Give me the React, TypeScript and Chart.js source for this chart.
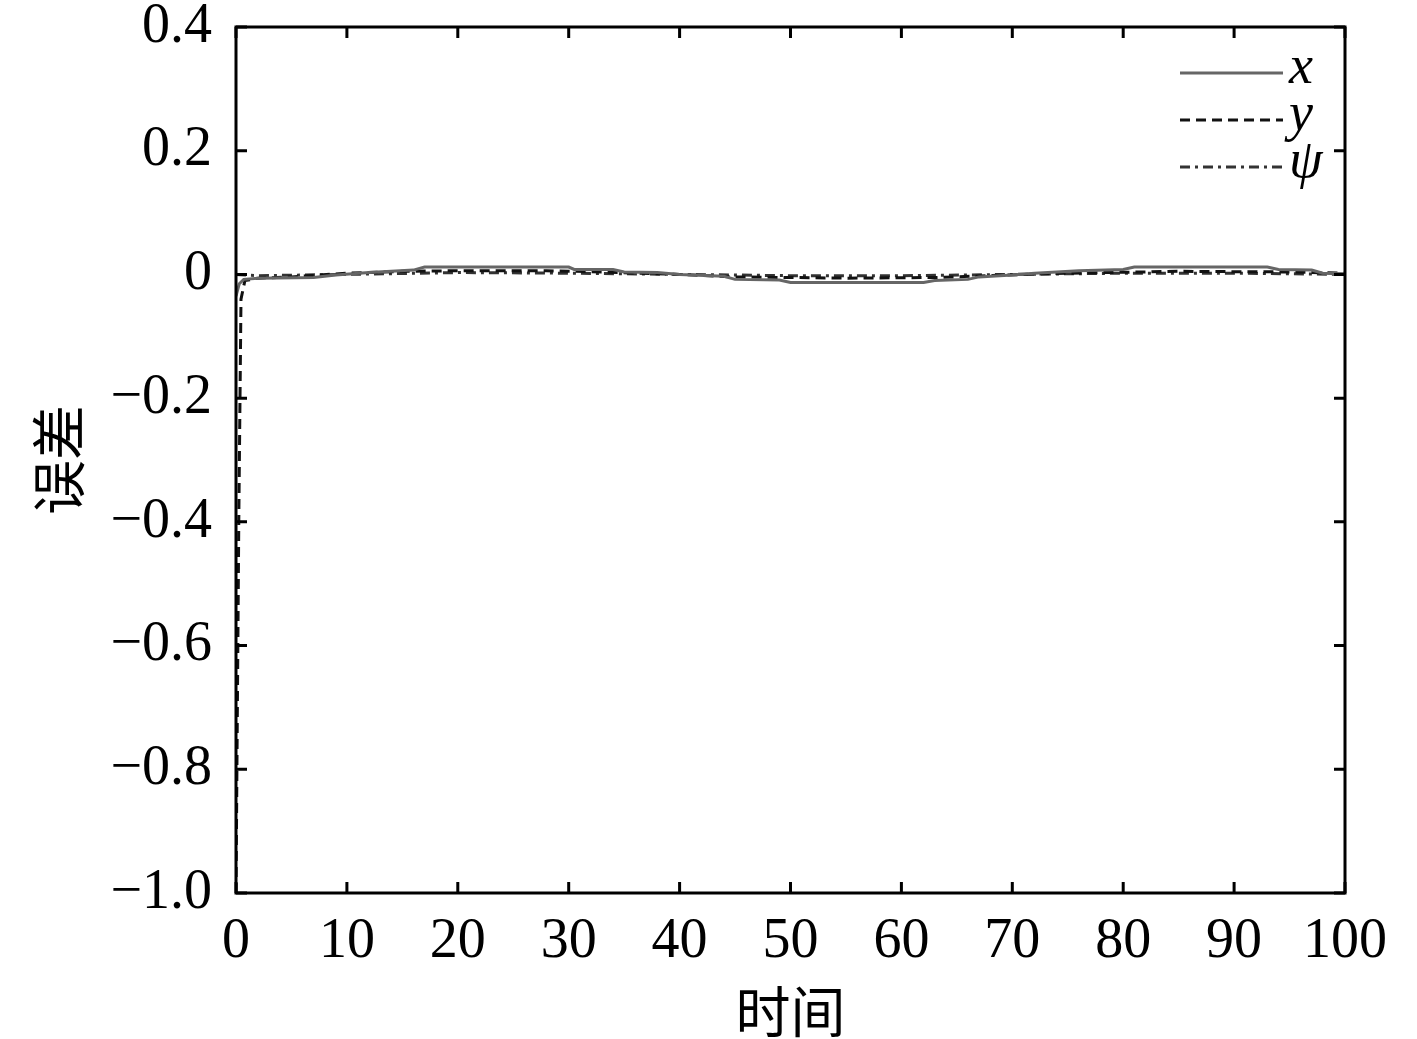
import React, { useEffect, useRef } from "react";
import { Chart, registerables } from "chart.js";

Chart.register(...registerables);

// ---- data ----
const xTimes = [0, 0.3, 0.7, 2, 7, 9, 12, 16, 17, 30, 30.5, 34, 35, 38, 40, 44, 45, 49, 50, 62, 63, 66, 67, 70, 72, 76, 80, 81, 93, 94, 97, 98, 100];
const xValues = [-0.035, -0.015, -0.008, -0.006, -0.005, -0.001, 0.003, 0.007, 0.012, 0.012, 0.008, 0.008, 0.004, 0.003, 0.0, -0.003, -0.008, -0.009, -0.013, -0.013, -0.01, -0.008, -0.004, -0.001, 0.002, 0.006, 0.008, 0.012, 0.012, 0.008, 0.007, 0.002, 0.001];

const yTimes = [0, 0.25, 0.45, 0.8, 2, 5, 10, 15, 20, 28, 33, 40, 45, 55, 63, 68, 75, 85, 95, 100];
const yValues = [-1.0, -0.4, -0.04, -0.01, -0.006, -0.004, 0.002, 0.005, 0.006, 0.006, 0.004, 0.0, -0.004, -0.006, -0.005, -0.002, 0.002, 0.005, 0.004, 0.002];

const psiTimes = [0, 2, 10, 20, 30, 40, 50, 60, 70, 80, 90, 100];
const psiValues = [0.0, -0.002, 0.0, 0.003, 0.002, 0.0, -0.002, -0.002, 0.0, 0.002, 0.002, 0.0];

const seriesLabels = ["x", "y", "ψ"];
const xTickMin = 0;
const xTickMax = 100;
const xTickStep = 10;
const yTickMin = -1.0;
const yTickMax = 0.4;
const yTickStep = 0.2;
const xTitle = "时间";
const yTitle = "误差";

const toPoints = (ts: number[], vs: number[]) => ts.map((t, i) => ({ x: t, y: vs[i] }));

const SERIF = '"Liberation Serif", "Times New Roman", serif';
const CJK = '"Noto Sans CJK SC", sans-serif';

const framePlugin = {
  id: "frameTicks",
  afterDatasetsDraw(chart: any) {
    const { ctx, chartArea, scales } = chart;
    const { left, right, top, bottom } = chartArea;
    ctx.save();
    ctx.strokeStyle = "#000";
    ctx.lineWidth = 3;
    ctx.setLineDash([]);
    ctx.strokeRect(left, top, right - left, bottom - top);
    const tl = 11;
    ctx.beginPath();
    scales.x.ticks.forEach((t: any) => {
      const px = scales.x.getPixelForValue(t.value);
      ctx.moveTo(px, bottom);
      ctx.lineTo(px, bottom - tl);
      ctx.moveTo(px, top);
      ctx.lineTo(px, top + tl);
    });
    scales.y.ticks.forEach((t: any) => {
      const py = scales.y.getPixelForValue(t.value);
      ctx.moveTo(left, py);
      ctx.lineTo(left + tl, py);
      ctx.moveTo(right, py);
      ctx.lineTo(right - tl, py);
    });
    ctx.stroke();

    // legend inside the plot
    const ds = chart.data.datasets;
    const lineStart = right - 165;
    const lineEnd = right - 62;
    const rows = [top + 46, top + 93, top + 140];
    ds.forEach((d: any, i: number) => {
      const y = rows[i];
      ctx.beginPath();
      ctx.strokeStyle = d.borderColor;
      ctx.lineWidth = 3;
      ctx.setLineDash(d.borderDash || []);
      ctx.moveTo(lineStart, y);
      ctx.lineTo(lineEnd, y);
      ctx.stroke();
      ctx.setLineDash([]);
      ctx.fillStyle = "#000";
      ctx.font = `italic 54px ${SERIF}`;
      ctx.textAlign = "left";
      ctx.textBaseline = "alphabetic";
      ctx.fillText(d.label, lineEnd + 6, y + 10);
    });
    ctx.restore();
  },
};

export default function App() {
  const ref = useRef<HTMLCanvasElement | null>(null);
  useEffect(() => {
    if (!ref.current) return;
    const chart = new Chart(ref.current, {
      type: "line",
      data: {
        datasets: [
          {
            label: seriesLabels[0],
            data: toPoints(xTimes, xValues),
            borderColor: "#666666",
            borderWidth: 3,
            pointRadius: 0,
            tension: 0,
            fill: false,
          },
          {
            label: seriesLabels[1],
            data: toPoints(yTimes, yValues),
            borderColor: "#111111",
            borderWidth: 3,
            borderDash: [10, 6],
            pointRadius: 0,
            tension: 0,
            fill: false,
          },
          {
            label: seriesLabels[2],
            data: toPoints(psiTimes, psiValues),
            borderColor: "#333333",
            borderWidth: 3,
            borderDash: [10, 5, 3, 5],
            pointRadius: 0,
            tension: 0,
            fill: false,
          },
        ],
      },
      options: {
        responsive: false,
        animation: false,
        events: [],
        layout: { padding: { left: 0, top: 27, right: 72, bottom: 0 } },
        plugins: { legend: { display: false }, tooltip: { enabled: false } },
        scales: {
          x: {
            type: "linear",
            min: xTickMin,
            max: xTickMax,
            grid: { display: false, drawTicks: false },
            border: { display: false },
            ticks: {
              stepSize: xTickStep,
              color: "#000",
              padding: 21,
              maxRotation: 0,
              font: { family: SERIF, size: 56, lineHeight: 1.0 },
              callback: (v: any) => String(Math.round(Number(v))),
            },
            title: {
              display: true,
              text: xTitle,
              color: "#000",
              font: { family: CJK, size: 55, lineHeight: 1.0 },
              padding: { top: 0, bottom: 0 },
            },
            afterFit: (s: any) => {
              s.height = 146;
              s.paddingLeft = 0;
              s.paddingRight = 0;
            },
          },
          y: {
            type: "linear",
            min: yTickMin,
            max: yTickMax,
            grid: { display: false, drawTicks: false },
            border: { display: false },
            ticks: {
              stepSize: yTickStep,
              color: "#000",
              padding: 24,
              font: { family: SERIF, size: 56, lineHeight: 1.0 },
              callback: (v: any) => {
                const r = Math.round(Number(v) * 10) / 10;
                if (r === 0) return "0";
                return r.toFixed(1).replace("-", "\u2212");
              },
            },
            title: {
              display: true,
              text: yTitle,
              color: "#000",
              font: { family: CJK, size: 55, lineHeight: 1.0 },
              padding: { top: 31, bottom: 0 },
            },
            afterFit: (s: any) => {
              s.width = 236;
              s.paddingTop = 0;
              s.paddingBottom = 0;
            },
          },
        },
      },
      plugins: [framePlugin],
    });
    return () => chart.destroy();
  }, []);
  return (
    <div style={{ position: "fixed", left: 0, top: 0, width: 1417, height: 1039, background: "#fff" }}>
      <canvas ref={ref} width={1417} height={1039} style={{ display: "block" }} />
    </div>
  );
}
